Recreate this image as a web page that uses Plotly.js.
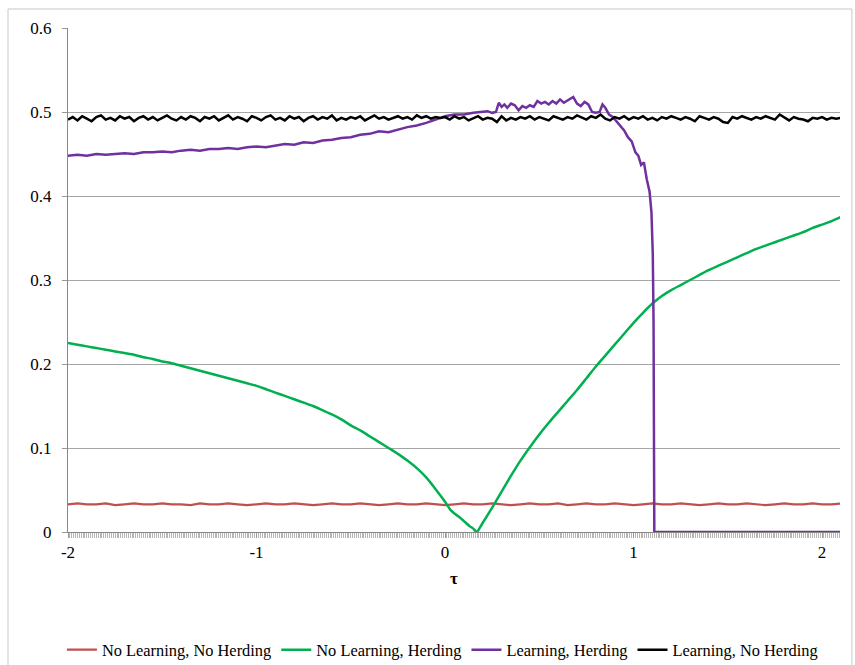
<!DOCTYPE html>
<html>
<head>
<meta charset="utf-8">
<script src="https://cdn.plot.ly/plotly-3.0.1.min.js"></script>
<style>html,body{margin:0;padding:0;background:#fff;}#chart{width:855px;height:665px;}</style>
</head>
<body>
<div id="chart"></div>
<script>
// ---- data ----
// Series names
var seriesNames = ["No Learning, No Herding", "No Learning, Herding", "Learning, Herding", "Learning, No Herding"];

// x-axis tick labels
var xTickVals = [-2, -1, 0, 1, 2];
var xTickText = ["-2", "-1", "0", "1", "2"];

// τ grid for "No Learning, No Herding" (step 0.05 from -2 to 2.1)
var redTau = [];
for (var i = 0; i <= 82; i++) redTau.push(+(-2 + 0.05 * i).toFixed(3));
var redVal = [
  .033,.034,.033,.033,.034,.032,.033,.034,.033,.033,
  .034,.033,.033,.032,.034,.033,.033,.034,.033,.032,
  .033,.034,.033,.033,.034,.033,.032,.033,.034,.033,
  .033,.034,.033,.032,.033,.034,.033,.033,.034,.033,
  .032,.033,.034,.033,.033,.034,.033,.032,.033,.034,
  .033,.033,.034,.032,.033,.034,.033,.033,.034,.033,
  .032,.033,.034,.033,.033,.034,.033,.032,.033,.034,
  .033,.033,.034,.033,.032,.033,.034,.033,.033,.034,
  .033,.033,.034
];

// "No Learning, Herding"
var greenTau = [-2.00,-1.95,-1.90,-1.85,-1.80,-1.75,-1.70,-1.65,-1.60,-1.55,
  -1.50,-1.45,-1.40,-1.35,-1.30,-1.25,-1.20,-1.15,-1.10,-1.05,
  -1.00,-0.95,-0.90,-0.85,-0.80,-0.75,-0.70,-0.65,-0.60,-0.55,
  -0.50,-0.45,-0.40,-0.35,-0.30,-0.25,-0.20,-0.15,-0.10,-0.05,
  0.00,0.03,0.05,0.08,0.10,0.13,0.15,0.168,0.20,0.25,0.30,0.35,0.40,0.45,
  0.50,0.55,0.60,0.65,0.70,0.75,0.80,0.85,0.90,0.95,
  1.00,1.05,1.10,1.15,1.20,1.25,1.30,1.35,1.40,1.45,
  1.50,1.55,1.60,1.65,1.70,1.75,1.80,1.85,1.90,1.95,
  2.00,2.05,2.10];
var greenVal = [.225,.223,.221,.219,.217,.215,.213,.211,.208,.206,
  .203,.201,.198,.195,.192,.189,.186,.183,.180,.177,
  .174,.170,.166,.162,.158,.154,.150,.145,.140,.134,
  .127,.121,.114,.107,.100,.093,.085,.076,.065,.051,
  .036,.026,.022,.017,.013,.007,.004,.000,.011,.029,.048,.067,.085,.101,
  .116,.130,.143,.156,.169,.183,.197,.210,.223,.236,
  .249,.261,.272,.281,.288,.294,.300,.306,.312,.317,
  .322,.327,.332,.337,.341,.345,.349,.353,.357,.362,
  .366,.370,.375];

// "Learning, Herding"
var purpleTau = [-2.00,-1.95,-1.90,-1.85,-1.80,-1.75,-1.70,-1.65,-1.60,-1.55,
  -1.50,-1.45,-1.40,-1.35,-1.30,-1.25,-1.20,-1.15,-1.10,-1.05,
  -1.00,-0.95,-0.90,-0.85,-0.80,-0.75,-0.70,-0.65,-0.60,-0.55,
  -0.50,-0.45,-0.40,-0.35,-0.30,-0.25,-0.20,-0.15,-0.10,-0.05,
  0.00,0.05,0.10,0.15,0.200,0.225,0.250,0.270,0.285,0.300,
  0.315,0.330,0.350,0.370,0.390,0.410,0.430,0.450,0.470,0.490,
  0.510,0.530,0.550,0.570,0.590,0.610,0.630,0.650,0.680,0.700,
  0.720,0.740,0.760,0.780,0.800,0.820,0.835,0.850,0.870,0.890,
  0.910,0.930,0.950,0.970,0.990,1.010,1.025,1.040,1.055,1.070,1.085,1.095,
  1.102,1.106,1.110,1.150,1.500,2.100];
var purpleVal = [.448,.449,.448,.450,.449,.450,.451,.450,.452,.452,
  .453,.452,.454,.455,.454,.456,.456,.457,.456,.458,
  .459,.458,.460,.462,.461,.464,.463,.466,.467,.469,
  .470,.473,.474,.477,.476,.479,.482,.484,.487,.491,
  .495,.497,.497,.499,.500,.501,.499,.500,.511,.506,
  .509,.505,.510,.508,.502,.507,.505,.508,.506,.513,
  .510,.512,.509,.513,.510,.515,.511,.514,.518,.510,
  .507,.512,.509,.500,.499,.500,.509,.505,.497,.494,
  .489,.483,.478,.470,.465,.452,.448,.437,.440,.420,.405,.380,
  .330,.250,.000,.000,.000,.000];

// "Learning, No Herding" (step 0.025 from -2 to 2.1)
var blackTau = [];
for (var j = 0; j <= 164; j++) blackTau.push(+(-2 + 0.025 * j).toFixed(3));
var blackVal = [
  .491,.494,.490,.495,.492,.489,.494,.496,.491,.493,
  .490,.495,.492,.494,.489,.493,.495,.491,.494,.490,
  .493,.496,.492,.490,.494,.491,.495,.493,.489,.494,
  .492,.495,.490,.493,.496,.491,.494,.492,.489,.495,
  .493,.490,.494,.496,.491,.493,.490,.495,.492,.494,
  .489,.493,.495,.491,.494,.492,.496,.490,.493,.491,
  .494,.492,.495,.490,.493,.496,.492,.494,.491,.493,
  .495,.492,.494,.491,.496,.493,.495,.492,.494,.493,
  .494,.491,.495,.492,.494,.490,.493,.495,.491,.493,
  .492,.488,.495,.490,.493,.491,.494,.492,.495,.491,
  .494,.492,.490,.495,.493,.491,.494,.492,.496,.493,
  .491,.495,.493,.497,.492,.490,.494,.492,.495,.491,
  .494,.492,.495,.491,.493,.490,.494,.492,.495,.493,
  .491,.494,.492,.489,.495,.493,.491,.494,.492,.488,
  .487,.494,.492,.495,.493,.491,.494,.492,.495,.493,
  .491,.497,.493,.490,.494,.492,.491,.489,.493,.492,
  .494,.491,.493,.492,.493
];

var colors = ["#C0504D", "#00B050", "#7030A0", "#000000"];

// ---- chart ----
var FONT = "Liberation Serif, Times New Roman, serif";
var traces = [
  {x: redTau, y: redVal, name: seriesNames[0], mode: "lines", line: {color: colors[0], width: 2.2}},
  {x: greenTau, y: greenVal, name: seriesNames[1], mode: "lines", line: {color: colors[1], width: 2.5, shape: "spline", smoothing: 0.6}},
  {x: purpleTau, y: purpleVal, name: seriesNames[2], mode: "lines", line: {color: colors[2], width: 2.5}},
  {x: blackTau, y: blackVal, name: seriesNames[3], mode: "lines", line: {color: colors[3], width: 2.5}}
];

var layout = {
  width: 855, height: 665,
  margin: {l: 68, r: 15, t: 28, b: 133, autoexpand: false},
  paper_bgcolor: "#fff", plot_bgcolor: "#fff",
  font: {family: FONT, size: 16, color: "#000"},
  showlegend: true,
  legend: {orientation: "h", x: 0.485, xanchor: "center", yref: "container", y: 0.0226, yanchor: "middle",
           font: {family: FONT, size: 16.4, color: "#000"}, itemwidth: 30, tracegroupgap: 0},
  xaxis: {
    range: [-2, 2.095], tickmode: "array", tickvals: xTickVals, ticktext: xTickText,
    ticks: "outside", ticklen: 5, tickcolor: "#999", showline: true, linecolor: "#888", linewidth: 1,
    showgrid: false, zeroline: false,
    minor: {dtick: 0.01, tick0: -2, ticks: "outside", ticklen: 5, tickcolor: "#b5b5b5", tickwidth: 1, showgrid: false},
    tickfont: {family: FONT, size: 17, color: "#000"},
    title: {text: "<b>τ</b>", font: {family: FONT, size: 17, color: "#000"}, standoff: 10}
  },
  yaxis: {
    range: [0, 0.6], dtick: 0.1, tick0: 0,
    ticks: "outside", ticklen: 5, tickcolor: "#999", showline: true, linecolor: "#888", linewidth: 1,
    showgrid: true, gridcolor: "#a6a6a6", gridwidth: 1, zeroline: false,
    ticklabelstandoff: 7,
    tickfont: {family: FONT, size: 17, color: "#000"}
  },
  shapes: [{type: "rect", xref: "paper", yref: "paper", x0: -0.0777, x1: 1.0155, y0: -0.4, y1: 1.0377,
            line: {color: "#c8c8c8", width: 1}, fillcolor: "rgba(0,0,0,0)", layer: "below"}]
};

Plotly.newPlot("chart", traces, layout, {staticPlot: true, displayModeBar: false});
</script>
</body>
</html>
